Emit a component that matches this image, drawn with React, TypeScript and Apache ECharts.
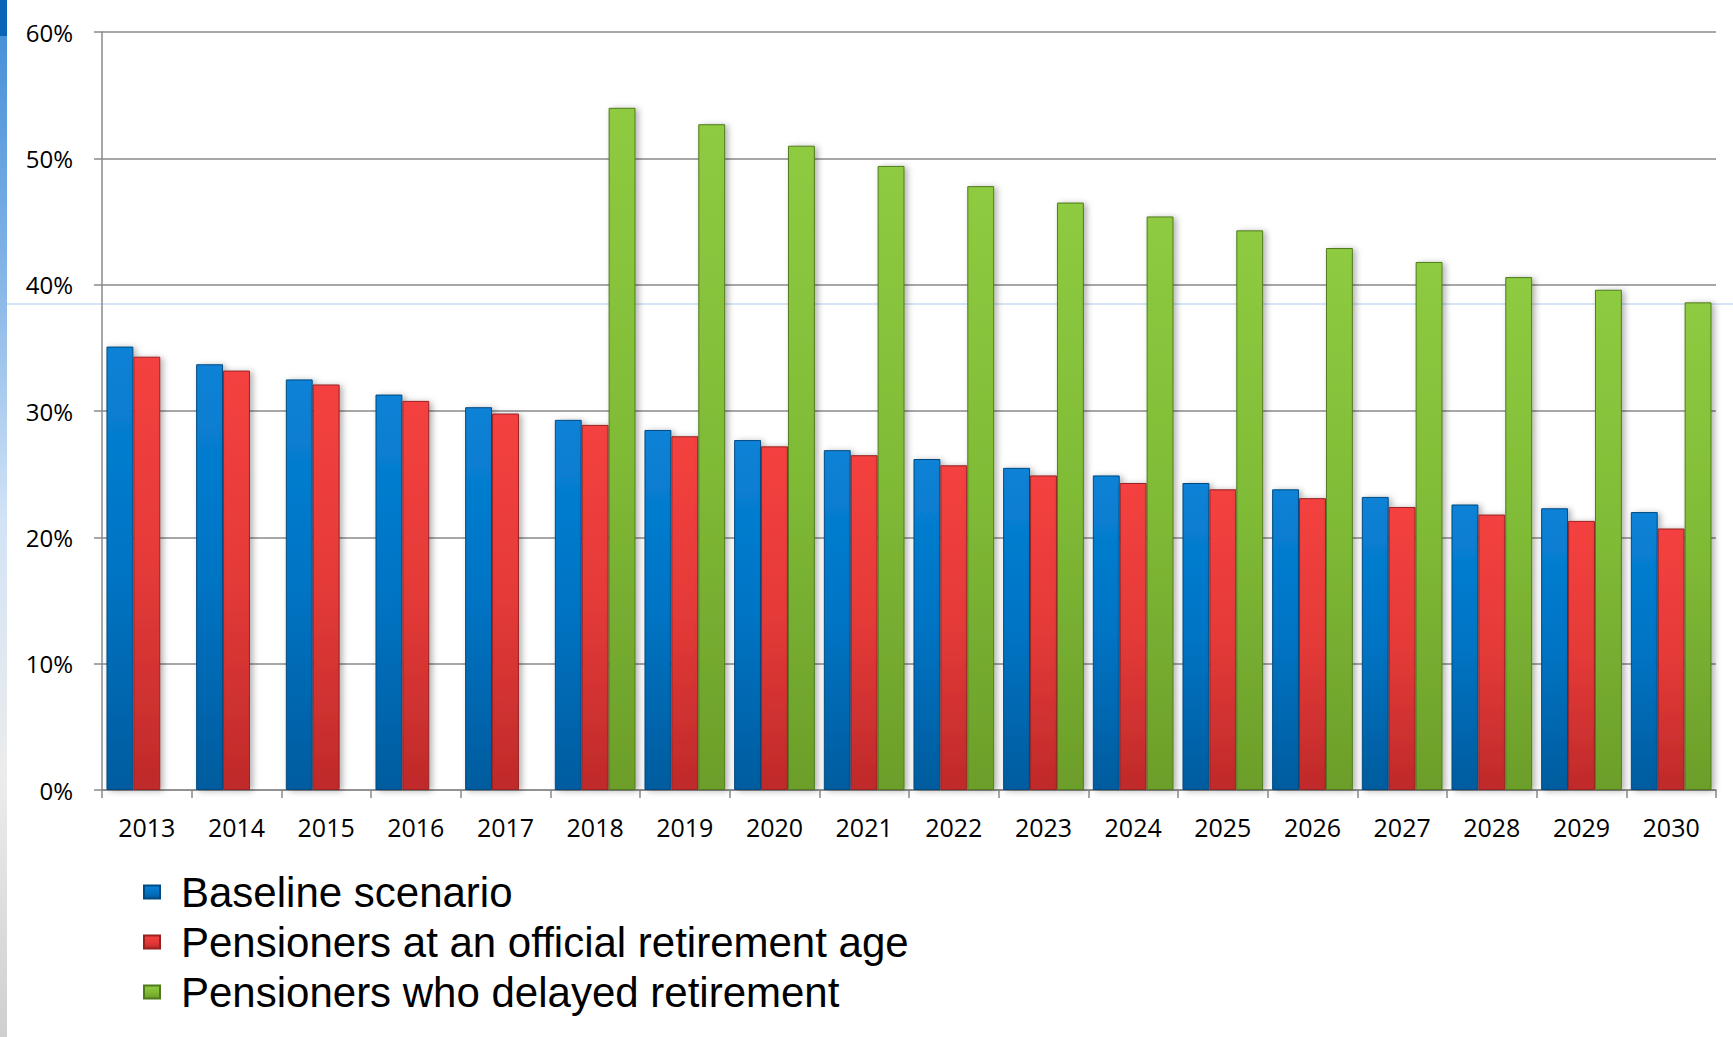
import React, { useEffect, useRef } from "react";
import * as echarts from "echarts";

const years = ["2013", "2014", "2015", "2016", "2017", "2018", "2019", "2020", "2021", "2022", "2023", "2024", "2025", "2026", "2027", "2028", "2029", "2030"];
const baseline = [35.1, 33.7, 32.5, 31.3, 30.3, 29.3, 28.5, 27.7, 26.9, 26.2, 25.5, 24.9, 24.3, 23.8, 23.2, 22.6, 22.3, 22.0];
const official = [34.3, 33.2, 32.1, 30.8, 29.8, 28.9, 28.0, 27.2, 26.5, 25.7, 24.9, 24.3, 23.8, 23.1, 22.4, 21.8, 21.3, 20.7];
const delayed = [null, null, null, null, null, 54.0, 52.7, 51.0, 49.4, 47.8, 46.5, 45.4, 44.3, 42.9, 41.8, 40.6, 39.6, 38.6];
const seriesNames = ["Baseline scenario", "Pensioners at an official retirement age", "Pensioners who delayed retirement"];

function grad(top: string, mid: string, bottom: string) {
  return new echarts.graphic.LinearGradient(0, 0, 0, 1, [
    { offset: 0, color: top },
    { offset: 0.5, color: mid },
    { offset: 1, color: bottom },
  ]);
}

export default function App() {
  const ref = useRef<HTMLDivElement>(null);
  useEffect(() => {
    document.body.style.margin = "0";
    document.body.style.overflow = "hidden";
    const chart = echarts.init(ref.current!, null, { renderer: "svg" });
    const barCommon = {
      type: "bar",
      barGap: "0%",
      barCategoryGap: "10%",
    };
    chart.setOption({
      animation: false,
      backgroundColor: "#ffffff",
      graphic: [
        {
          type: "rect",
          left: 0,
          top: 0,
          z: 0,
          shape: { width: 7, height: 1037 },
          style: {
            fill: new echarts.graphic.LinearGradient(0, 0, 0, 1, [
              { offset: 0, color: "#3f8bd6" },
              { offset: 0.25, color: "#7fb2e6" },
              { offset: 0.5, color: "#d2e3f6" },
              { offset: 0.75, color: "#ececec" },
              { offset: 1, color: "#cfcfcf" },
            ]),
          },
        },
        {
          type: "rect",
          left: 0,
          top: 0,
          z: 0,
          shape: { width: 7, height: 36 },
          style: { fill: "#0b63b8" },
        },
        {
          type: "line",
          z: 0,
          shape: { x1: 7, y1: 304, x2: 1733, y2: 304 },
          style: { stroke: "#a9cbef", lineWidth: 1 },
        },
      ],
      legend: {
        orient: "vertical",
        left: 138,
        top: 866,
        itemWidth: 16,
        itemHeight: 13,
        itemGap: 8,
        icon: "rect",
        data: seriesNames,
        textStyle: {
          fontFamily: "Liberation Sans",
          fontSize: 42,
          lineHeight: 41,
          color: "#000000",
          padding: [0, 0, 0, 16],
        },
      },
      grid: { left: 102, right: 17, top: 32, bottom: 247, containLabel: false },
      xAxis: {
        type: "category",
        data: years,
        axisLine: { lineStyle: { color: "#8a8a8a", width: 1.5 } },
        axisTick: { show: true, length: 8, lineStyle: { color: "#8a8a8a", width: 1.5 } },
        axisLabel: {
          fontFamily: "Open Sans",
          fontSize: 25,
          color: "#000000",
          margin: 24,
        },
      },
      yAxis: {
        type: "value",
        min: 0,
        max: 60,
        interval: 10,
        axisLine: { show: true, lineStyle: { color: "#8a8a8a", width: 1.5 } },
        axisTick: { show: true, length: 8, lineStyle: { color: "#8a8a8a", width: 1.5 } },
        splitLine: { show: true, lineStyle: { color: "#8a8a8a", width: 1.5 } },
        axisLabel: {
          formatter: "{value}%",
          fontFamily: "Open Sans",
          fontSize: 24,
          color: "#000000",
          margin: 29,
        },
      },
      series: [
        {
          ...barCommon,
          name: seriesNames[0],
          data: baseline,
          itemStyle: {
            color: grad("#0a82d6", "#0074c4", "#005c9e"),
            borderColor: "#004a80",
            borderWidth: 1,
            shadowBlur: 6,
            shadowOffsetX: 3,
            shadowOffsetY: 1,
            shadowColor: "rgba(0,0,0,0.3)",
          },
        },
        {
          ...barCommon,
          name: seriesNames[1],
          data: official,
          itemStyle: {
            color: grad("#f4413f", "#e43a38", "#bf2a2a"),
            borderColor: "#9a2020",
            borderWidth: 1,
            shadowBlur: 6,
            shadowOffsetX: 3,
            shadowOffsetY: 1,
            shadowColor: "rgba(0,0,0,0.3)",
          },
        },
        {
          ...barCommon,
          name: seriesNames[2],
          data: delayed,
          itemStyle: {
            color: grad("#8ecb40", "#80bb36", "#6c9e2a"),
            borderColor: "#4f7a1c",
            borderWidth: 1,
            shadowBlur: 6,
            shadowOffsetX: 3,
            shadowOffsetY: 1,
            shadowColor: "rgba(0,0,0,0.3)",
          },
        },
      ],
    });
    return () => chart.dispose();
  }, []);
  return <div ref={ref} style={{ width: 1733, height: 1037 }} />;
}
